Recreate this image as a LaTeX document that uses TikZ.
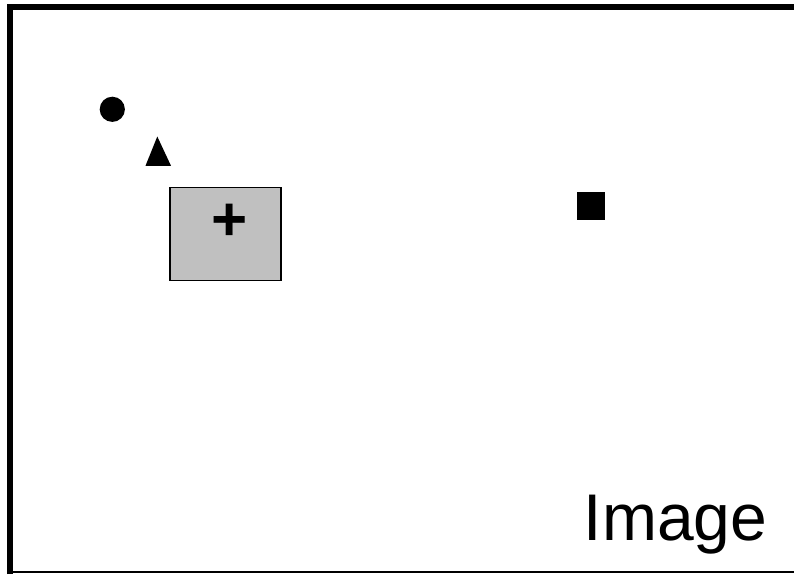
\documentclass[tikz,border=0pt]{standalone}
\usepackage{fontspec}
\setmainfont{Liberation Sans}
\begin{document}
\begin{tikzpicture}[x=1pt,y=-1pt,
  thickframe/.style={line width=6pt, black},
  thinframe/.style={line width=2.2pt, black},
  marker/.style={fill=black, draw=none},
  cuebox/.style={draw=black, line width=1.5pt, fill={rgb,255:red,192;green,192;blue,192}}]
\useasboundingbox (0,0) rectangle (794,574);
\fill[white] (0,0) rectangle (794,574);
% frame
\coordinate (tl) at (10,7);
\coordinate (tr) at (794,7);
\coordinate (bl) at (10,574);
\coordinate (bl2) at (7,572);
\coordinate (br) at (794,572);
\draw[thinframe] (bl2) -- (br);
\draw[thickframe] (bl) -- (10,4);
\draw[thickframe] (7,7) -- (tr);
% circle
\fill[marker] (112.3,109.3) circle (12.6);
% triangle
\fill[marker] (157.3,136.5) -- (171,165.8) -- (145.5,165.8) -- cycle;
% gray box
\node[cuebox, minimum width=111pt, minimum height=93pt, inner sep=0pt] (box) at (225.5,234.2) {};
% plus
\node[font=\bfseries\fontsize{62}{62}\selectfont, inner sep=0pt] (plus) at (229.6,222.5) {+};
% square
\node[marker, minimum size=28pt, inner sep=0pt] (sq) at (591.2,206.2) {};
% label
\node[anchor=base west, font=\fontsize{66}{66}\selectfont, inner sep=0pt] (lbl) at (583.5,540) {Image};
\end{tikzpicture}
\end{document}
